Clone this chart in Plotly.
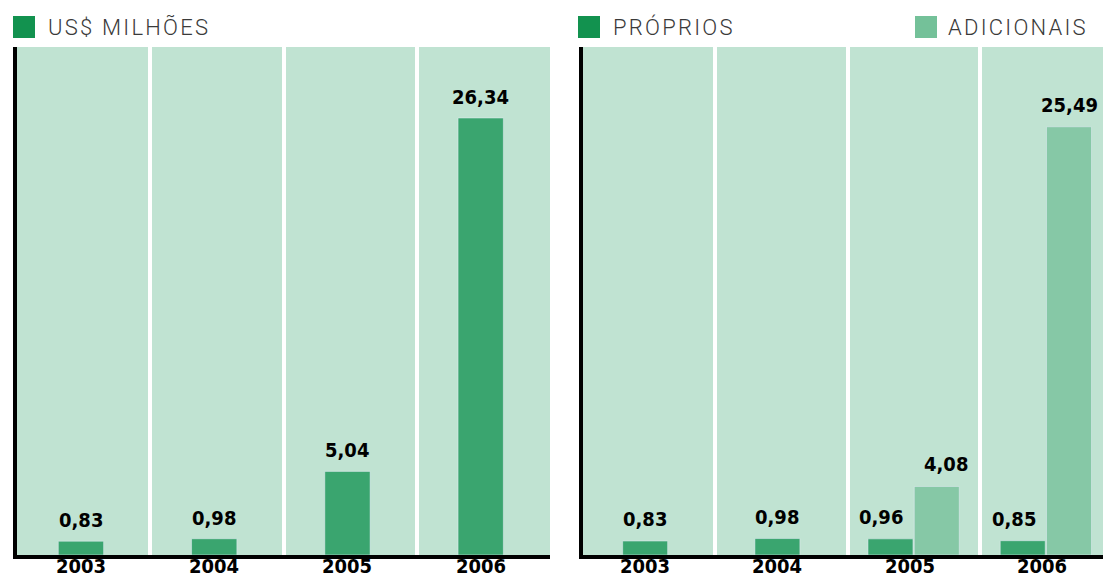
import plotly.graph_objects as go

# ---- data ----
years = ["2003", "2004", "2005", "2006"]
total = [0.83, 0.98, 5.04, 26.34]
proprios = [0.83, 0.98, 0.96, 0.85]
adicionais = [None, None, 4.08, 25.49]
total_labels = ["0,83", "0,98", "5,04", "26,34"]
proprios_labels = ["0,83", "0,98", "0,96", "0,85"]
adicionais_labels = [None, None, "4,08", "25,49"]

# ---- styles ----
W, H = 1103, 578
BAR = "#3aa56f"
BAR_LIGHT = "#86c8a6"
BG = "#c0e3d2"
LEG_DARK = "#12924f"
LEG_LIGHT = "#74c199"
LABEL_FONT = dict(family="DejaVu Sans Condensed, Liberation Sans Narrow, Roboto Condensed, sans-serif",
                  size=20, color="black", weight="bold")
LEG_FONT = dict(family="Roboto, sans-serif", size=22, color="#3a3a3a", weight=300)
HAIR = "\u200a"

def px(x):
    return x / W

def py(y):
    return 1 - y / H

bw = 0.34
unit = 132.5
fig = go.Figure()

# left chart
off_l = -bw / 2 - 0.02
fig.add_trace(go.Bar(x=years, y=total, marker_color=BAR, width=bw,
                     offset=off_l, xaxis="x", yaxis="y", showlegend=False))

# right chart
paired = [a is not None for a in adicionais]
off_p = [-0.345 if p else -bw / 2 - 0.03 for p in paired]
off_a = 0.005
nudge_p = [-9 if p else 0 for p in paired]
nudge_a = [0, 0, 9, 0]
fig.add_trace(go.Bar(x=years, y=proprios, marker_color=BAR, width=bw,
                     offset=off_p, xaxis="x2", yaxis="y2", showlegend=False))
fig.add_trace(go.Bar(x=years, y=adicionais, marker_color=BAR_LIGHT, width=bw,
                     offset=off_a, xaxis="x2", yaxis="y2", showlegend=False))

annotations = []
for i, (v, t) in enumerate(zip(total, total_labels)):
    annotations.append(dict(x=i, y=v, xref="x", yref="y", text=t, showarrow=False,
                            yanchor="middle", yshift=21, xshift=(off_l + bw / 2) * 133,
                            font=LABEL_FONT))
for i, (v, t, o) in enumerate(zip(proprios, proprios_labels, off_p)):
    annotations.append(dict(x=i, y=v, xref="x2", yref="y2", text=t, showarrow=False,
                            yanchor="middle", yshift=22,
                            xshift=(o + bw / 2) * unit + nudge_p[i], font=LABEL_FONT))
for i, (v, t) in enumerate(zip(adicionais, adicionais_labels)):
    if v is None:
        continue
    annotations.append(dict(x=i, y=v, xref="x2", yref="y2", text=t, showarrow=False,
                            yanchor="middle", yshift=22,
                            xshift=(off_a + bw / 2) * unit + nudge_a[i], font=LABEL_FONT))
# year labels under each axis
for xr, o in (("x", off_l + bw / 2), ("x2", -0.03)):
    for i, yr in enumerate(years):
        annotations.append(dict(x=i + o, y=py(566), xref=xr, yref="paper", text=yr,
                                showarrow=False, yanchor="middle", borderpad=0,
                                font=LABEL_FONT))

# legend-like headers
legend_items = [
    ("US$ MILHÕES", 13, 46, LEG_DARK),
    ("PRÓPRIOS", 578, 611, LEG_DARK),
    ("ADICIONAIS", 915, 946, LEG_LIGHT),
]
shapes = []
for text, sx, tx, col in legend_items:
    shapes.append(dict(type="rect", xref="paper", yref="paper",
                       x0=px(sx), x1=px(sx + 22), y0=py(38), y1=py(16),
                       fillcolor=col, line=dict(width=0)))
    spaced = HAIR.join(list(text))
    annotations.append(dict(x=px(tx), y=py(27), xref="paper", yref="paper",
                            text=spaced, showarrow=False, xanchor="left",
                            yanchor="middle", font=LEG_FONT))

xcommon = dict(type="category", tickson="boundaries", showgrid=True,
               gridcolor="white", gridwidth=4, ticks="", showline=True,
               linewidth=4, linecolor="black", showticklabels=False,
               zeroline=False, fixedrange=True, automargin=False)
ycommon = dict(showticklabels=False, showgrid=False, zeroline=False,
               showline=True, linewidth=4, linecolor="black", ticks="",
               domain=[py(555), py(47)], fixedrange=True, automargin=False)

fig.update_layout(
    width=W, height=H,
    margin=dict(l=0, r=0, t=0, b=0, autoexpand=False),
    paper_bgcolor="white", plot_bgcolor=BG,
    barmode="overlay",
    xaxis=dict(**xcommon, domain=[px(17), px(550)], range=[-0.5, 3.5]),
    yaxis=dict(**ycommon, range=[0, 30.62], anchor="x"),
    xaxis2=dict(**xcommon, domain=[px(583), 1.0], range=[-0.5, 3.432], anchor="y2"),
    yaxis2=dict(**ycommon, range=[0, 30.24], anchor="x2"),
    shapes=shapes,
    annotations=annotations,
)

fig.write_html("out.html",
               config={"displayModeBar": False},
               post_script="document.body.style.margin='0';document.documentElement.style.overflow='hidden';")
